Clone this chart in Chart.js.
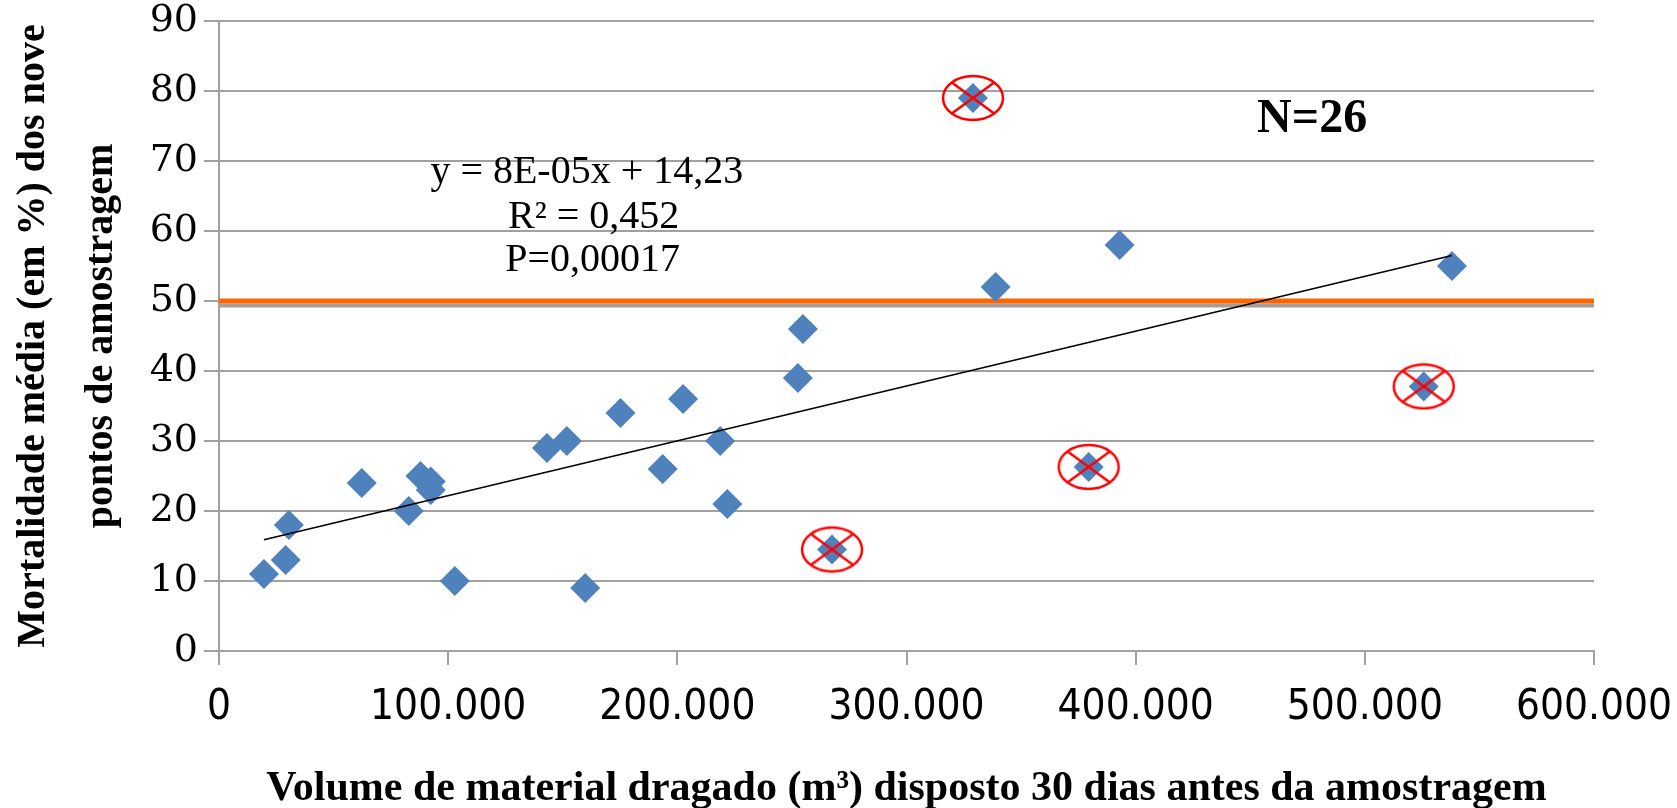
<!DOCTYPE html>
<html>
<head>
<meta charset="utf-8">
<script src="https://cdn.jsdelivr.net/npm/chart.js@4.4.1/dist/chart.umd.min.js"></script>
<style>
html, body { margin:0; padding:0; background:#fff; }
#wrap { width:1677px; height:808px; }
</style>
</head>
<body>
<div id="wrap"><canvas id="chart"></canvas></div>
<script>
// volume dragado (m3) e mortalidade média (%)
const volume = [19600, 29100, 30500, 62300, 82800, 87900, 92400, 92400, 102900, 143100, 151800, 159800, 175200,
                193600, 202500, 218700, 221800, 252600, 254800, 267500, 329000, 338900, 379500, 393000, 525700, 538000];
const mortality = [11, 13, 18, 24, 20, 25, 24.2, 23, 10, 29, 30, 9, 34,
                   26, 36, 30, 21, 39, 46, 14.5, 79, 52, 26.3, 58, 37.8, 55];
// pontos descartados (círculo vermelho)
const excludedIdx = [19, 20, 22, 24];

// linha de tendência
const trendX = [19600, 538000];
const trendY = [15.9, 56.5];

// limite de 50%
const limitX = [0, 600000];
const limitY = [50, 50];

const xTickLabels = ['0', '100.000', '200.000', '300.000', '400.000', '500.000', '600.000'];
const yTicks = [0, 10, 20, 30, 40, 50, 60, 70, 80, 90];

const notes = ['y = 8E-05x + 14,23', 'R² = 0,452', 'P=0,00017', 'N=26'];

const gridGrey = '#A0A0A0';

function makeCrossedEllipse(w, h){
    const c = document.createElement('canvas');
    c.width = w + 4; c.height = h + 4;
    const g = c.getContext('2d');
    const a = w/2, b = h/2, cx = c.width/2, cy = c.height/2, k = Math.SQRT1_2;
    g.strokeStyle = '#FF0000';
    g.lineWidth = 2.5;
    g.beginPath(); g.ellipse(cx, cy, a, b, 0, 0, 2*Math.PI); g.stroke();
    g.beginPath();
    g.moveTo(cx - a*k, cy - b*k); g.lineTo(cx + a*k, cy + b*k);
    g.moveTo(cx + a*k, cy - b*k); g.lineTo(cx - a*k, cy + b*k);
    g.stroke();
    return c;
}

const zip = (xs, ys) => xs.map((x, i) => ({x, y: ys[i]}));

// textos sobre o gráfico, posicionados em coordenadas dos eixos
const notesPlugin = {
    id: 'notes',
    afterDatasetsDraw(chart){
        const {ctx, scales:{x, y}} = chart;
        const place = [
            {x:160500, y:68.4, font:'40px "Liberation Serif"'},
            {x:163500, y:61.9, font:'40px "Liberation Serif"'},
            {x:163000, y:55.8, font:'40px "Liberation Serif"'},
            {x:477000, y:75.9, font:'bold 48px "Liberation Serif"'}
        ];
        ctx.save();
        ctx.fillStyle = '#000';
        ctx.textAlign = 'center';
        ctx.textBaseline = 'middle';
        notes.forEach((t, i) => {
            ctx.font = place[i].font;
            ctx.fillText(t, x.getPixelForValue(place[i].x), y.getPixelForValue(place[i].y));
        });
        ctx.restore();
    }
};

const ctx = document.getElementById('chart').getContext('2d');
new Chart(ctx, {
    type: 'scatter',
    data: {
        datasets: [
            { data: excludedIdx.map(i => ({x: volume[i], y: mortality[i]})),
              pointStyle: makeCrossedEllipse(60, 44), pointRadius: 10 },
            { data: zip(trendX, trendY), showLine: true, borderColor: '#000', borderWidth: 1.5, pointRadius: 0 },
            { data: zip(volume, mortality), pointStyle: 'rectRot', pointRadius: 15,
              backgroundColor: '#4F81BD', borderColor: '#4F81BD', borderWidth: 0 },
            { data: zip(limitX, limitY), showLine: true, borderColor: '#FF6600', borderWidth: 5, pointRadius: 0 },
            { data: zip(limitX, limitY.map(v => v - 0.65)), showLine: true, borderColor: gridGrey, borderWidth: 4, pointRadius: 0 }
        ]
    },
    options: {
        responsive: true,
        maintainAspectRatio: false,
        animation: false,
        events: [],
        layout: { padding: { top: 21, right: 83, left: 0, bottom: 0 } },
        plugins: { legend: { display: false }, tooltip: { enabled: false } },
        scales: {
            x: {
                type: 'linear', min: 0, max: 600000,
                afterBuildTicks: s => { s.ticks = xTickLabels.map((l, i) => ({value: i*100000})); },
                ticks: {
                    callback: (v, i) => xTickLabels[i],
                    color: '#000', padding: 18,
                    font: { family: '"Liberation Sans Narrow", "DejaVu Sans Condensed", sans-serif', size: 42 },
                    maxRotation: 0
                },
                grid: { drawOnChartArea: false, drawTicks: true, tickLength: 14, color: gridGrey, lineWidth: 2 },
                border: { color: gridGrey, width: 2 },
                title: {
                    display: true,
                    text: 'Volume de material dragado (m³) disposto 30 dias antes da amostragem',
                    color: '#000',
                    font: { family: '"Liberation Serif"', size: 42, weight: 'bold', lineHeight: 0.8 },
                    padding: { top: 0, bottom: 2 }
                },
                afterFit: s => { s.height = 157; s.paddingRight = 0; s.paddingLeft = 0; }
            },
            y: {
                min: 0, max: 90,
                afterBuildTicks: s => { s.ticks = yTicks.map(v => ({value: v})); },
                ticks: {
                    color: '#000', padding: 6,
                    font: { family: '"DejaVu Serif", serif', size: 38 }
                },
                grid: { color: gridGrey, lineWidth: 2, tickLength: 15 },
                border: { color: gridGrey, width: 2 },
                title: {
                    display: true,
                    text: ['Mortalidade média (em %) dos nove', 'pontos de amostragem'],
                    color: '#000',
                    font: { family: '"Liberation Serif"', size: 40, weight: 'bold', lineHeight: 1.7 },
                    padding: { top: 0, bottom: 0 }
                },
                afterFit: s => { s.width = 219; s.paddingTop = 0; s.paddingBottom = 0; }
            }
        }
    },
    plugins: [notesPlugin]
});
</script>
</body>
</html>
